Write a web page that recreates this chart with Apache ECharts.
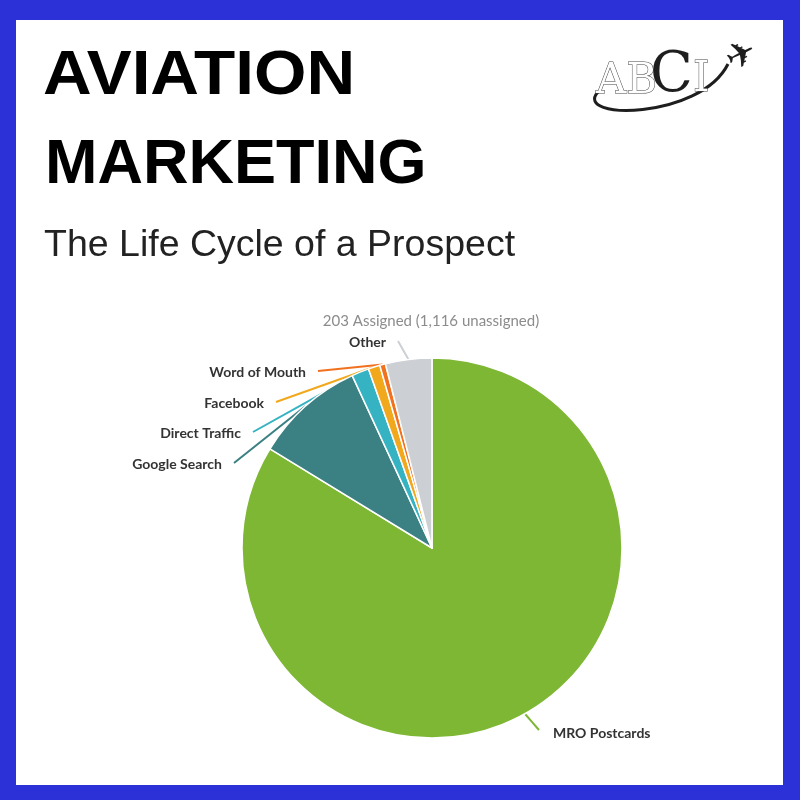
<!DOCTYPE html>
<html>
<head>
<meta charset="utf-8">
<script src="https://cdn.jsdelivr.net/npm/echarts@6/dist/echarts.min.js"></script>
<style>
  html, body { margin: 0; padding: 0; background: #2B31D7; }
  #chart { width: 800px; height: 800px; }
</style>
</head>
<body>
<div id="chart"></div>
<script>
// ---- data ----
const categories = ['MRO Postcards', 'Google Search', 'Direct Traffic', 'Facebook', 'Word of Mouth', 'Other'];
const counts = [170, 19, 3, 2, 1, 8];
const assignedText = '203 Assigned (1,116 unassigned)';
const titleLines = ['AVIATION', 'MARKETING'];
const subtitleText = 'The Life Cycle of a Prospect';

// ---- styles / layout (kept separate from data) ----
const sliceColors = ['#7DB733', '#3B8082', '#36B3C2', '#F1A81D', '#F2711F', '#CCD0D4'];
// label text anchor [x, y, align]
const labelSpots = [
  [553, 733, 'left'],
  [222, 464, 'right'],
  [241, 433, 'right'],
  [264, 403, 'right'],
  [306, 372, 'right'],
  [386, 342, 'right']
];

const chart = echarts.init(document.getElementById('chart'), null, { renderer: 'canvas' });

const option = {
  backgroundColor: '#2B31D7',
  animation: false,
  graphic: [
    { type: 'rect', shape: { x: 16, y: 20, width: 767, height: 765 }, style: { fill: '#ffffff' }, z: -10 },
    { type: 'text', x: 43, y: 77, scaleX: 1.07, style: { text: titleLines[0], font: 'bold 63px "Liberation Sans", Arial, sans-serif', fill: '#000', verticalAlign: 'middle', align: 'left' } },
    { type: 'text', x: 45, y: 166, style: { text: titleLines[1], font: 'bold 63px "Liberation Sans", Arial, sans-serif', fill: '#000', verticalAlign: 'middle', align: 'left' } },
    { type: 'text', x: 44, y: 246, style: { text: subtitleText, font: '37.5px "Liberation Sans", Arial, sans-serif', fill: '#222', verticalAlign: 'middle', align: 'left' } },
    { type: 'text', x: 431, y: 321, style: { text: assignedText, font: '15px Lato, "Noto Sans", sans-serif', fill: '#8C8C8C', verticalAlign: 'middle', align: 'center' } },
    // logo
    { type: 'bezierCurve', shape: { x1: 728, y1: 64, cpx1: 700, cpy1: 120, cpx2: 572, cpy2: 120, x2: 598, y2: 92 }, style: { stroke: '#1e1e1e', lineWidth: 3, fill: null } },
    { type: 'text', x: 596, y: 82, style: { text: 'AB', font: '42px "DejaVu Serif", "Liberation Serif", serif', fill: '#ffffff', stroke: '#444', lineWidth: 1, verticalAlign: 'middle', align: 'left' } },
    { type: 'text', x: 650, y: 76, style: { text: 'C', font: '56px "DejaVu Serif", "Liberation Serif", serif', fill: '#1e1e1e', verticalAlign: 'middle', align: 'left' } },
    { type: 'text', x: 693, y: 80, style: { text: 'I', font: '42px "DejaVu Serif", "Liberation Serif", serif', fill: '#ffffff', stroke: '#444', lineWidth: 1, verticalAlign: 'middle', align: 'left' } },
    { type: 'text', x: 742, y: 57, rotation: 0.45, style: { text: '✈', font: '36px "DejaVu Sans", sans-serif', fill: '#1e1e1e', verticalAlign: 'middle', align: 'center' } }
  ],
  series: [{
    type: 'pie',
    center: [432, 548],
    radius: 190,
    startAngle: 90,
    clockwise: true,
    avoidLabelOverlap: false,
    color: sliceColors,
    itemStyle: { borderColor: '#ffffff', borderWidth: 1.5 },
    label: {
      show: true,
      formatter: '{b}',
      fontFamily: 'Lato, "Noto Sans", sans-serif',
      fontWeight: 'bold',
      fontSize: 14,
      color: '#333'
    },
    labelLine: { show: true, length: 10, length2: 10, lineStyle: { width: 2 } },
    labelLayout: function (p) {
      const s = labelSpots[p.dataIndex];
      const start = p.labelLinePoints ? p.labelLinePoints[0] : [s[0], s[1]];
      const endX = s[2] === 'right' ? s[0] + 12 : s[0] - 14;
      const endY = s[2] === 'right' ? s[1] - 1 : s[1] - 3;
      return {
        x: s[0],
        y: s[1],
        align: s[2],
        verticalAlign: 'middle',
        labelLinePoints: [start, [(start[0] + endX) / 2, (start[1] + endY) / 2], [endX, endY]]
      };
    },
    data: categories.map((c, i) => ({ name: c, value: counts[i] }))
  }]
};
chart.setOption(option);
</script>
</body>
</html>
